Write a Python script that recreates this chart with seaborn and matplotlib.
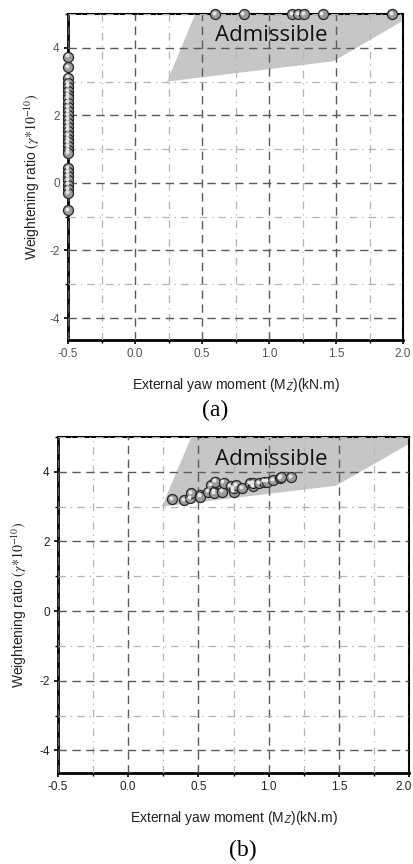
import numpy as np
import pandas as pd
import matplotlib
matplotlib.use("Agg")
import matplotlib.pyplot as plt
from matplotlib.ticker import MultipleLocator
import matplotlib.transforms as mtransforms
import seaborn as sns

sns.set_theme(style="white")
plt.rcParams['font.family'] = ['Liberation Sans', 'DejaVu Sans']
plt.rcParams['mathtext.fontset'] = 'stix'

# ---------------- data ----------------
x_ticks = [-0.5, 0.0, 0.5, 1.0, 1.5, 2.0]
y_ticks = [-4, -2, 0, 2, 4]
x_tick_labels = ["-0.5", "0.0", "0.5", "1.0", "1.5", "2.0"]
y_tick_labels = ["-4", "-2", "0", "2", "4"]

admissible_x = [0.24, 0.45, 2.0, 2.0, 1.48]
admissible_y = [3.0, 5.0, 5.0, 4.8, 3.6]

# panel (a): points on the left edge (Mz = -0.5)
a_left_y = [3.74, 3.42, 3.12, 2.95, 2.85, 2.72, 2.6, 2.5, 2.38, 2.25, 2.12, 2.0,
            1.9, 1.78, 1.66, 1.55, 1.42, 1.3, 1.2, 1.08, 0.98, 0.88,
            0.45, 0.32, 0.2, 0.08, -0.05, -0.18, -0.3, -0.8]
a_left_x = [-0.5] * len(a_left_y)
# panel (a): points on the top edge (ratio = 5)
a_top_x = [0.60, 0.81, 1.17, 1.22, 1.26, 1.40, 1.92]
a_top_y = [5.0] * len(a_top_x)

# panel (b): cluster inside admissible region
b_x = [0.31, 0.40, 0.44, 0.45, 0.51, 0.51, 0.57, 0.59, 0.61, 0.61, 0.62, 0.62,
       0.67, 0.68, 0.73, 0.75, 0.75, 0.77, 0.81, 0.87, 0.89, 0.89, 0.93, 0.97,
       0.99, 1.03, 1.08, 1.09, 1.16]
b_y = [3.21, 3.19, 3.25, 3.40, 3.34, 3.29, 3.43, 3.63, 3.43, 3.39, 3.72, 3.72,
       3.43, 3.69, 3.60, 3.43, 3.54, 3.63, 3.53, 3.67, 3.60, 3.68, 3.67, 3.72,
       3.72, 3.77, 3.82, 3.85, 3.84]

xlabel = r"External yaw moment (M$_{\mathsf{Z}}$)(kN.m)"
ylabel = r"Weightening ratio $(\gamma{*}10^{-10})$"

df_a = pd.DataFrame({"x": a_left_x + a_top_x, "y": a_left_y + a_top_y})
df_b = pd.DataFrame({"x": b_x, "y": b_y})

W, H = 413, 864
fig = plt.figure(figsize=(W / 100, H / 100), dpi=100)
fig.patch.set_facecolor("white")

def px_axes(left, right, top, bottom):
    return fig.add_axes([left / W, 1 - bottom / H, (right - left) / W, (bottom - top) / H])

ax_a = px_axes(68, 403, 14, 340)
ax_b = px_axes(58, 409, 437, 773)

def style(ax, df, caption, caption_x, ylab_pad, tick_col, last_shift):
    ax.set_xlim(-0.5, 2.0)
    ax.set_ylim(-4.65, 5.0)
    ax.fill(admissible_x, admissible_y, color="#c6c6c6", lw=0, zorder=0.5)
    ax.set_xticks(x_ticks)
    ax.set_yticks(y_ticks)
    ax.xaxis.set_minor_locator(MultipleLocator(0.25))
    ax.yaxis.set_minor_locator(MultipleLocator(1.0))
    ax.set_axisbelow(False)
    ax.grid(True, which="major", color="#5a5a5a", ls=(0, (6, 4)), lw=1.0, zorder=1)
    ax.grid(True, which="minor", color="#b5b5b5", ls=(0, (6, 4, 1, 4)), lw=0.9, zorder=1)
    for s in ["left", "bottom"]:
        ax.spines[s].set_linewidth(2.0)
        ax.spines[s].set_color("black")
    for s in ["top", "right"]:
        ax.spines[s].set_linewidth(1.5)
        ax.spines[s].set_color("black")
    ax.tick_params(which="major", direction="out", length=3, width=1.2, colors="black",
                   labelsize=8.5, labelcolor=tick_col, left=True, bottom=True, pad=3)
    ax.tick_params(which="minor", direction="out", length=2, width=1.0, colors="black",
                   left=True, bottom=True)
    ax.set_xticklabels(x_tick_labels)
    ax.set_yticklabels(y_tick_labels)
    if last_shift:
        lab = ax.get_xticklabels()[-1]
        lab.set_transform(lab.get_transform() + mtransforms.ScaledTranslation(-last_shift / 100, 0, fig.dpi_scale_trans))
    ax.text(1.02, 4.36, "Admissible", ha="center", va="center", fontsize=16,
            family="Open Sans", color="#111111", zorder=3)
    sns.scatterplot(data=df, x="x", y="y", ax=ax, s=52, color="#9a9a9a",
                    edgecolor="#262626", linewidth=0.9, clip_on=False, zorder=5, legend=False)
    n_before = len(ax.collections)
    # highlight to give the spherical look
    sns.scatterplot(data=df, x="x", y="y", ax=ax, s=8, color="#e6e6e6",
                    linewidth=0, clip_on=False, zorder=6, legend=False)
    hl = ax.collections[n_before]
    hl.set_offset_transform(ax.transData + mtransforms.ScaledTranslation(-1.2 / 100, 1.2 / 100, fig.dpi_scale_trans))
    ax.set_xlabel(xlabel, fontsize=10, color="#222222", labelpad=11)
    ax.set_ylabel(ylabel, fontsize=10, color="#222222", labelpad=ylab_pad)
    fig.text(caption_x / W, caption[1], caption[0], ha="center", va="center",
             fontsize=17, family="Liberation Serif", color="black")

style(ax_a, df_a, ("(a)", 1 - 410 / H), 215, 5, "#555555", 0)
style(ax_b, df_b, ("(b)", 1 - 850 / H), 243, 7, "#222222", 5)

fig.savefig("out.png", dpi=100, facecolor="white")
